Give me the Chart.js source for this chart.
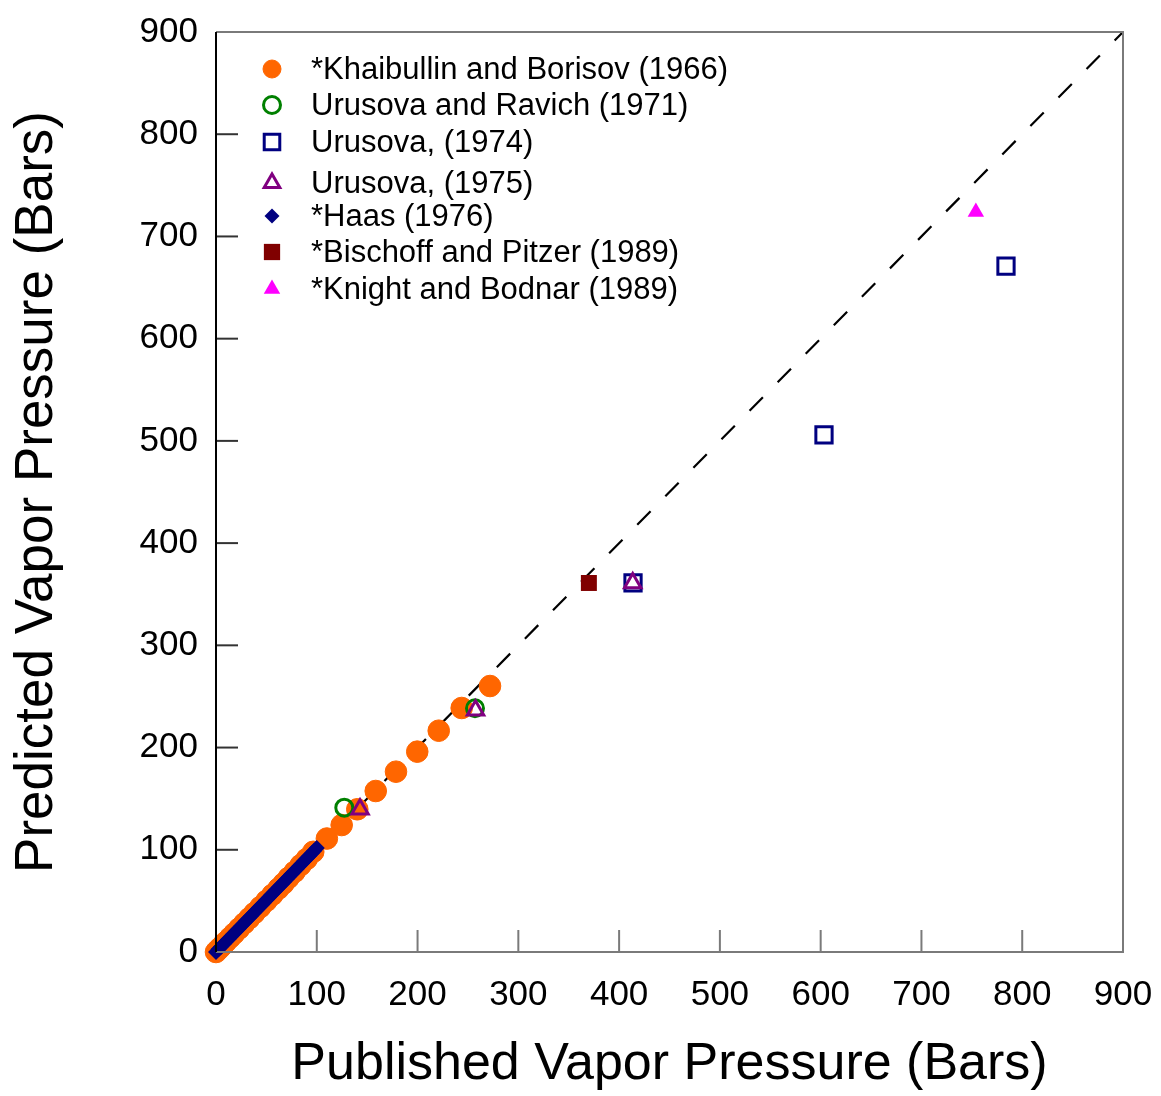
<!DOCTYPE html>
<html>
<head>
<meta charset="utf-8">
<title>Predicted vs Published Vapor Pressure</title>
<script src="https://cdn.jsdelivr.net/npm/chart.js@4.4.0/dist/chart.umd.min.js"></script>
<style>
    body { margin: 0; background: #ffffff; }
    #contenedor { width: 1161px; height: 1096px; position: relative; }
</style>
</head>
<body>
<div id="contenedor">
    <canvas id="grafico_presion"></canvas>
</div>
<script>
// valores (bares)
const khaibullinX = [0, 2, 4, 7, 10, 14, 18, 23, 28, 33, 38, 44, 50, 56, 62, 67, 72, 78, 84, 90, 96.5, 110, 124.7, 140.2, 158.5, 178.6, 199.7, 221, 243.8, 271.9];
const khaibullinY = [0, 2, 4, 7, 10, 14, 18, 23, 28, 33, 38, 44, 50, 56, 62, 67, 72.5, 78.5, 85, 91, 98, 111, 124.2, 139.6, 157.5, 176.4, 196, 216.5, 238.7, 260.2];

const urusovaRavichX = [127.3, 257];
const urusovaRavichY = [141.2, 238.4];

const urusova1974X = [413.8, 603.3, 783.9];
const urusova1974Y = [361, 505.8, 671];

const urusova1975X = [142.9, 257.5, 413.5];
const urusova1975Y = [139.6, 236.5, 361];

const haasX = [0, 2.5, 5, 7.5, 10, 12.5, 15, 17.5, 20, 22.5, 25, 27.5, 30, 32.5, 35, 37.5, 40, 42.5, 45, 47.5, 50, 52.5, 55, 57.5, 60, 62.5, 65, 67.5, 70, 72.5, 75, 77.5, 80, 82.5, 85, 87.5, 90, 92.5, 95, 97.5, 100];
const haasY = [0, 2.6, 5.1, 7.6, 10.2, 12.7, 15.2, 17.8, 20.3, 22.8, 25.4, 27.9, 30.5, 33, 35.5, 38.1, 40.6, 43.2, 45.7, 48.2, 50.8, 53.3, 55.9, 58.4, 61, 63.5, 66, 68.6, 71.1, 73.7, 76.2, 78.7, 81.3, 83.8, 86.4, 88.9, 91.5, 94, 96.6, 99.1, 101.7];

const bischoffX = [370];
const bischoffY = [361];

const knightX = [754];
const knightY = [724];

const ejeMin = 0;
const ejeMax = 900;
const ejePaso = 100;

function puntos(xs, ys) {
    return xs.map((x, i) => ({ x: x, y: ys[i] }));
}

const fuente = "'Liberation Sans', Arial, Helvetica, sans-serif";

// filas de la leyenda dentro del area del grafico
const leyendaMarcaX = 272;
const leyendaTextoX = 311;
const leyendaFilas = [69, 105, 142, 183, 216, 252, 289];

const datasets = [
    {
        label: '*Khaibullin and Borisov (1966)',
        data: puntos(khaibullinX, khaibullinY),
        pointStyle: 'circle', pointRadius: 10.8, borderWidth: 1,
        backgroundColor: '#ff6600', borderColor: '#ff6600',
        legendRadius: 9, order: 9
    },
    {
        label: 'Urusova and Ravich (1971)',
        data: puntos(urusovaRavichX, urusovaRavichY),
        pointStyle: 'circle', pointRadius: 8.5, borderWidth: 3,
        backgroundColor: 'rgba(0,0,0,0)', borderColor: '#008000',
        legendRadius: 8.5, order: 7
    },
    {
        label: 'Urusova, (1974)',
        data: puntos(urusova1974X, urusova1974Y),
        pointStyle: 'rect', pointRadius: 11.5, borderWidth: 3,
        backgroundColor: 'rgba(0,0,0,0)', borderColor: '#000080',
        legendRadius: 11, order: 8
    },
    {
        label: 'Urusova, (1975)',
        data: puntos(urusova1975X, urusova1975Y),
        pointStyle: 'triangle', pointRadius: 9.5, borderWidth: 3,
        backgroundColor: 'rgba(0,0,0,0)', borderColor: '#800080',
        legendRadius: 9, order: 6
    },
    {
        label: '*Haas (1976)',
        data: puntos(haasX, haasY),
        pointStyle: 'rectRot', pointRadius: 8, borderWidth: 0,
        backgroundColor: '#000080', borderColor: '#000080',
        legendRadius: 7.5, order: 5
    },
    {
        label: '*Bischoff and Pitzer (1989)',
        data: puntos(bischoffX, bischoffY),
        pointStyle: 'rect', pointRadius: 11.3, borderWidth: 0,
        backgroundColor: '#800000', borderColor: '#800000',
        legendRadius: 11.5, order: 4
    },
    {
        label: '*Knight and Bodnar (1989)',
        data: puntos(knightX, knightY),
        pointStyle: 'triangle', pointRadius: 9.5, borderWidth: 0,
        backgroundColor: '#ff00ff', borderColor: '#ff00ff',
        legendRadius: 9.5, order: 3
    },
    {
        // linea 1:1
        label: 'linea',
        data: [{ x: ejeMin, y: ejeMin }, { x: ejeMax, y: ejeMax }],
        showLine: true, pointRadius: 0, borderWidth: 2.2,
        borderColor: '#000000', borderDash: [19, 21],
        order: 10, sinLeyenda: true
    }
];
datasets.forEach(d => { d.clip = false; d.pointHoverRadius = d.pointRadius; });

// marco, marcas hacia adentro y leyenda
const marcoPlugin = {
    id: 'marco',
    afterDatasetsDraw(chart) {
        const { ctx, chartArea: a, scales } = chart;
        ctx.save();
        ctx.lineWidth = 2;
        ctx.strokeStyle = '#7a7a7a';
        for (let v = ejeMin + ejePaso; v < ejeMax; v += ejePaso) {
            const px = scales.x.getPixelForValue(v);
            ctx.beginPath();
            ctx.moveTo(px, a.bottom);
            ctx.lineTo(px, a.bottom - 22);
            ctx.stroke();
        }
        ctx.strokeStyle = '#333333';
        for (let v = ejeMin + ejePaso; v < ejeMax; v += ejePaso) {
            const py = scales.y.getPixelForValue(v);
            ctx.beginPath();
            ctx.moveTo(a.left, py);
            ctx.lineTo(a.left + 22, py);
            ctx.stroke();
        }
        ctx.strokeStyle = '#7a7a7a';
        ctx.beginPath();
        ctx.moveTo(a.left, a.top);
        ctx.lineTo(a.right, a.top);
        ctx.lineTo(a.right, a.bottom);
        ctx.lineTo(a.left, a.bottom);
        ctx.stroke();
        ctx.strokeStyle = '#000000';
        ctx.beginPath();
        ctx.moveTo(a.left, a.top);
        ctx.lineTo(a.left, a.bottom);
        ctx.stroke();
        ctx.restore();
    },
    afterDraw(chart) {
        const ctx = chart.ctx;
        ctx.save();
        let fila = 0;
        chart.data.datasets.forEach(d => {
            if (d.sinLeyenda) return;
            const y = leyendaFilas[fila++];
            ctx.fillStyle = d.backgroundColor;
            ctx.strokeStyle = d.borderColor;
            ctx.lineWidth = d.borderWidth;
            Chart.helpers.drawPoint(ctx, {
                pointStyle: d.pointStyle,
                radius: d.legendRadius,
                rotation: 0,
                borderWidth: d.borderWidth
            }, leyendaMarcaX, y);
            ctx.fillStyle = '#000000';
            ctx.font = '31px ' + fuente;
            ctx.textAlign = 'left';
            ctx.textBaseline = 'middle';
            ctx.fillText(d.label, leyendaTextoX, y + 1);
        });
        ctx.restore();
    }
};

// sin relleno extra por las etiquetas: el area queda donde la fija layout.padding
function sinRelleno(scale) {
    scale.paddingTop = 0;
    scale.paddingRight = 0;
    scale.paddingBottom = 0;
    scale.paddingLeft = 0;
}

const ctx = document.getElementById('grafico_presion');
new Chart(ctx, {
    type: 'scatter',
    data: { datasets: datasets },
    options: {
        responsive: true,
        maintainAspectRatio: false,
        animation: false,
        events: [],
        layout: { padding: { top: 32, right: 38, left: 0, bottom: 0 } },
        plugins: {
            legend: { display: false },
            tooltip: { enabled: false }
        },
        scales: {
            x: {
                type: 'linear', min: ejeMin, max: ejeMax,
                grid: { display: false, drawTicks: false },
                border: { display: false },
                ticks: {
                    stepSize: ejePaso, padding: 22, color: '#000000',
                    font: { family: fuente, size: 35 }
                },
                title: {
                    display: true, text: 'Published Vapor Pressure (Bars)', color: '#000000',
                    font: { family: fuente, size: 52 },
                    padding: { top: 0, bottom: 0 }
                },
                afterFit(scale) { scale.height = 144; sinRelleno(scale); }
            },
            y: {
                type: 'linear', min: ejeMin, max: ejeMax,
                grid: { display: false, drawTicks: false },
                border: { display: false },
                ticks: {
                    stepSize: ejePaso, padding: 18, color: '#000000',
                    font: { family: fuente, size: 35 }
                },
                title: {
                    display: true, text: 'Predicted Vapor Pressure (Bars)', color: '#000000',
                    font: { family: fuente, size: 53 },
                    padding: { top: 6, bottom: 0 }
                },
                afterFit(scale) { scale.width = 216; sinRelleno(scale); }
            }
        }
    },
    plugins: [marcoPlugin]
});
</script>
</body>
</html>
